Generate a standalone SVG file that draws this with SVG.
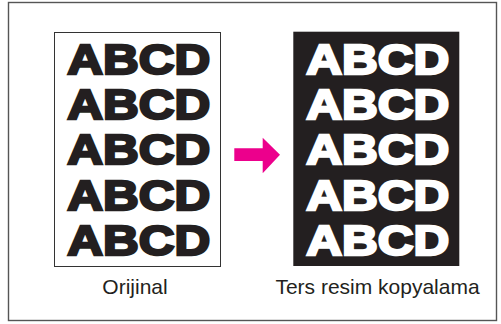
<svg xmlns="http://www.w3.org/2000/svg" width="501" height="324" viewBox="0 0 501 324">
<style>
.big{font-family:"Liberation Sans",Arial,sans-serif;font-weight:bold;font-size:42px;stroke-width:2.4px;stroke-linejoin:miter}
.dark{fill:#231f20;stroke:#231f20}
.light{fill:#ffffff;stroke:#ffffff}
.lbl{font-family:"Liberation Sans",Arial,sans-serif;font-size:21px;fill:#231f20;text-anchor:middle}
</style>
<rect x="8.5" y="2.5" width="488" height="318" fill="#ffffff" stroke="#555555" stroke-width="1.4"/>
<g id="original">
<rect x="54.5" y="32.5" width="166" height="234" fill="#ffffff" stroke="#333333" stroke-width="1"/>
<g class="big dark">
<text x="67.2" y="73.8" textLength="143" lengthAdjust="spacingAndGlyphs">ABCD</text>
<text x="67.2" y="119" textLength="143" lengthAdjust="spacingAndGlyphs">ABCD</text>
<text x="67.2" y="164.3" textLength="143" lengthAdjust="spacingAndGlyphs">ABCD</text>
<text x="67.2" y="209.5" textLength="143" lengthAdjust="spacingAndGlyphs">ABCD</text>
<text x="67.2" y="254.8" textLength="143" lengthAdjust="spacingAndGlyphs">ABCD</text>
</g>
<text class="lbl" x="135" y="294.3">Orijinal</text>
</g>
<g id="connectors">
<polygon points="234.3,148.3 262.7,148.3 262.7,137.7 280,154.7 262.7,173.3 262.7,161 234.3,161" fill="#ec008c"/>
</g>
<g id="inverted">
<rect x="293.3" y="31.7" width="166" height="234.3" fill="#231f20"/>
<g class="big light">
<text x="306.2" y="73.8" textLength="143" lengthAdjust="spacingAndGlyphs">ABCD</text>
<text x="306.2" y="119" textLength="143" lengthAdjust="spacingAndGlyphs">ABCD</text>
<text x="306.2" y="164.3" textLength="143" lengthAdjust="spacingAndGlyphs">ABCD</text>
<text x="306.2" y="209.5" textLength="143" lengthAdjust="spacingAndGlyphs">ABCD</text>
<text x="306.2" y="254.8" textLength="143" lengthAdjust="spacingAndGlyphs">ABCD</text>
</g>
<text class="lbl" x="377.5" y="294.3">Ters resim kopyalama</text>
</g>
</svg>
